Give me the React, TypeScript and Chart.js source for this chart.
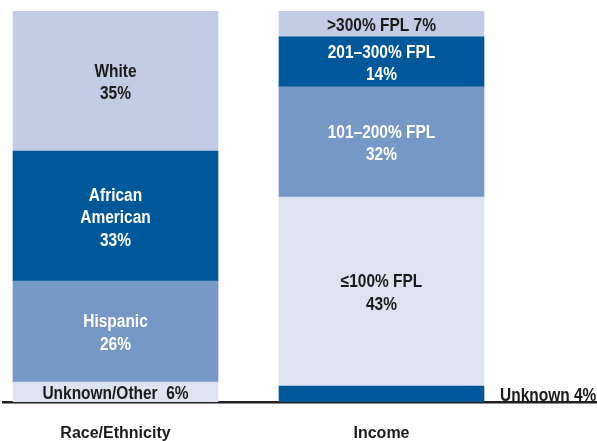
import React, { useEffect, useRef } from "react";
import { Chart, registerables } from "chart.js";

Chart.register(...registerables);

// ---- Data ----
const categories = ["Race/Ethnicity", "Income"];

// Race/Ethnicity segments, bottom to top
const raceGroups = ["Unknown/Other", "Hispanic", "African American", "White"];
const raceLabels = [["Unknown/Other  6%"], ["Hispanic", "26%"], ["African", "American", "33%"], ["White", "35%"]];
// segment heights as drawn (share of bar, %)
const raceShares = [5.1, 25.8, 33.3, 35.8];

// Income segments, bottom to top
const incomeGroups = ["Unknown", "≤100% FPL", "101–200% FPL", "201–300% FPL", ">300% FPL"];
const incomeLabels = [["Unknown 4%"], ["≤100% FPL", "43%"], ["101–200% FPL", "32%"], ["201–300% FPL", "14%"], [">300% FPL 7%"]];
const incomeShares = [4.1, 48.3, 28.2, 12.8, 6.6];

// ---- Styles ----
const DARK = "#00589b";
const MID = "#7698c6";
const LIGHT = "#c2cde5";
const PALE = "#dde3f0";
const INK = "#1b1b1b";

const raceColors = [PALE, MID, DARK, LIGHT];
const raceText = [INK, "#ffffff", "#ffffff", INK];
const incomeColors = [DARK, PALE, MID, DARK, LIGHT];
const incomeText = [INK, INK, "#ffffff", "#ffffff", INK];
const incomeOutside = [true, false, false, false, false];

const FONT = '"Liberation Sans", Arial, sans-serif';
const SQUEEZE = 0.86;
const LINE = 22.5;
const TEXT_SHIFT = 2;

const segmentLabelPlugin = {
  id: "segmentLabels",
  afterDatasetsDraw(chart: any) {
    const ctx = chart.ctx;
    chart.data.datasets.forEach((ds: any, i: number) => {
      const meta = chart.getDatasetMeta(i);
      meta.data.forEach((el: any) => {
        const { x, y, base, width } = el.getProps(["x", "y", "base", "width"], true);
        const cy = (y + base) / 2 + TEXT_SHIFT;
        const lines: string[] = ds.segLines;
        let x0 = x;
        ctx.save();
        ctx.font = `bold 18px ${FONT}`;
        ctx.textBaseline = "middle";
        ctx.fillStyle = ds.textColor;
        if (ds.outside) {
          ctx.textAlign = "left";
          x0 = x + width / 2 + 16;
        } else {
          ctx.textAlign = "center";
        }
        ctx.translate(x0, 0);
        ctx.scale(SQUEEZE, 1);
        lines.forEach((ln, k) => {
          ctx.fillText(ln, 0, cy + (k - (lines.length - 1) / 2) * LINE);
        });
        ctx.restore();
      });
    });
  },
};

// x-axis layout (bar centres at 1 and 2)
const X_MIN = 1 - 112.5 / 266;
const X_MAX = X_MIN + 594 / 266;

export default function App() {
  const ref = useRef<HTMLCanvasElement | null>(null);

  useEffect(() => {
    if (!ref.current) return;
    const datasets: any[] = [];
    raceShares.forEach((v, i) => {
      datasets.push({
        label: raceGroups[i],
        data: [{ x: 1, y: v }],
        backgroundColor: raceColors[i],
        borderWidth: 0,
        stack: "all",
        barThickness: 205,
        segLines: raceLabels[i],
        textColor: raceText[i],
        outside: false,
      });
    });
    incomeShares.forEach((v, i) => {
      datasets.push({
        label: incomeGroups[i],
        data: [{ x: 2, y: v }],
        backgroundColor: incomeColors[i],
        borderWidth: 0,
        stack: "all",
        barThickness: 205,
        segLines: incomeLabels[i],
        textColor: incomeText[i],
        outside: incomeOutside[i],
      });
    });

    const chart = new Chart(ref.current, {
      type: "bar",
      data: { datasets },
      plugins: [segmentLabelPlugin],
      options: {
        animation: false,
        responsive: false,
        layout: { padding: { left: 3, top: 11, right: 0, bottom: 0 } },
        plugins: { legend: { display: false }, tooltip: { enabled: false } },
        scales: {
          x: {
            type: "linear",
            min: X_MIN,
            max: X_MAX,
            offset: false,
            bounds: "data",
            grid: { display: false, drawTicks: false, offset: false },
            border: { display: true, color: "#231f20", width: 2.5 },
            afterBuildTicks: (scale: any) => {
              scale.ticks = categories.map((_, i) => ({ value: i + 1 }));
            },
            afterFit: (scale: any) => {
              scale.height = 39;
            },
            ticks: {
              autoSkip: false,
              maxRotation: 0,
              padding: 22,
              color: INK,
              font: { family: FONT, size: 16, weight: "bold", lineHeight: 1.2 },
              callback: (v: any) => categories[Math.round(v) - 1] ?? "",
            },
          },
          y: {
            display: false,
            stacked: true,
            min: 0,
            max: 100,
          },
        },
      } as any,
    });
    return () => chart.destroy();
  }, []);

  return (
    <div style={{ position: "absolute", left: 0, top: 0, width: 597, height: 441 }}>
      <canvas ref={ref} width={597} height={441} style={{ display: "block" }} />
    </div>
  );
}
